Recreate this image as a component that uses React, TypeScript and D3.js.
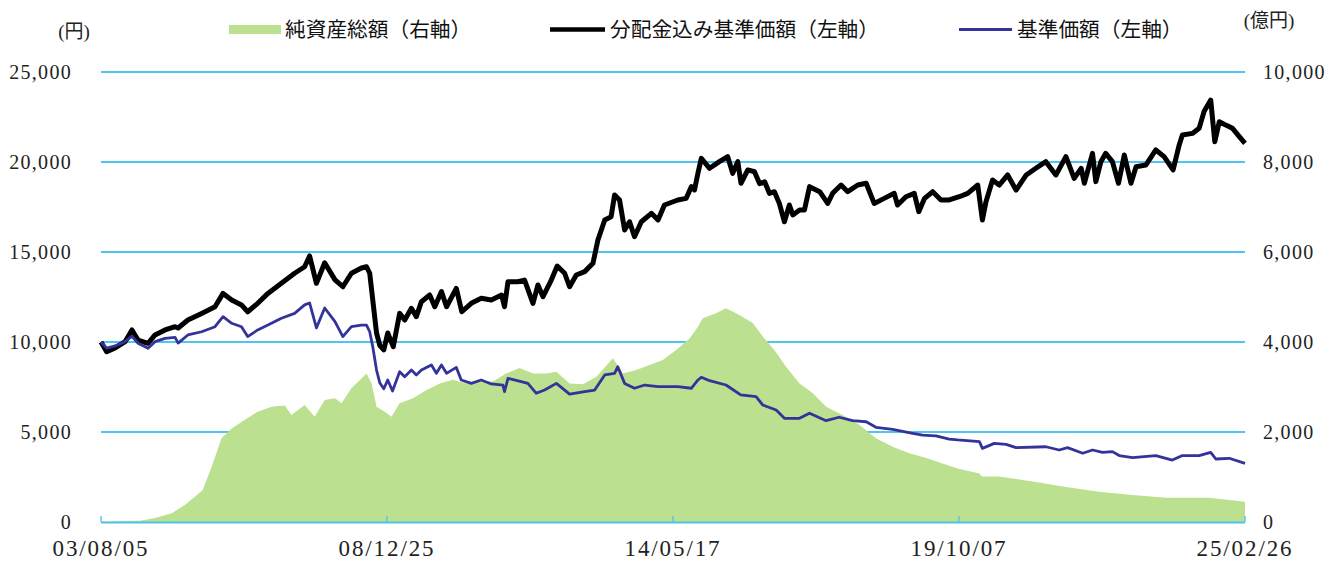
import * as d3 from "d3";

// 分配金込み基準価額 (左軸, 円)
const totalReturnNav: [string, number][] = [
  ["2003-08-05", 10000], ["2003-09-13", 9460], ["2003-11-10", 9670], ["2004-01-18", 10020],
  ["2004-03-05", 10670], ["2004-04-16", 10110], ["2004-06-24", 9930], ["2004-08-11", 10390],
  ["2004-10-19", 10670], ["2004-12-27", 10850], ["2005-01-17", 10780], ["2005-03-25", 11220],
  ["2005-06-28", 11590], ["2005-09-28", 11960], ["2005-11-22", 12700], ["2006-01-21", 12330],
  ["2006-03-29", 12060], ["2006-05-11", 11680], ["2006-07-19", 12150], ["2006-09-27", 12700],
  ["2006-12-29", 13260], ["2007-03-30", 13820], ["2007-06-07", 14180], ["2007-07-11", 14780],
  ["2007-08-27", 13260], ["2007-10-23", 14400], ["2008-01-02", 13450], ["2008-02-25", 13070],
  ["2008-04-24", 13820], ["2008-07-02", 14110], ["2008-08-06", 14180], ["2008-08-28", 13820],
  ["2008-09-18", 12330], ["2008-10-14", 10500], ["2008-11-06", 9800], ["2008-12-03", 9560],
  ["2008-12-30", 10500], ["2009-02-06", 9740], ["2009-03-22", 11590], ["2009-04-26", 11220],
  ["2009-06-11", 11870], ["2009-07-15", 11410], ["2009-08-19", 12240], ["2009-10-15", 12610],
  ["2009-11-19", 11960], ["2010-01-04", 12800], ["2010-02-08", 11960], ["2010-04-16", 12980],
  ["2010-05-24", 11680], ["2010-07-28", 12150], ["2010-10-05", 12430], ["2010-12-13", 12330],
  ["2011-02-22", 12610], ["2011-03-14", 11960], ["2011-04-07", 13350], ["2011-06-14", 13350],
  ["2011-07-30", 13440], ["2011-09-26", 12150], ["2011-10-30", 13170], ["2011-12-04", 12520],
  ["2012-01-30", 13440], ["2012-03-11", 14220], ["2012-05-01", 13820], ["2012-06-04", 13070],
  ["2012-07-20", 13720], ["2012-09-16", 13910], ["2012-11-12", 14370], ["2012-12-16", 15670],
  ["2013-02-01", 16780], ["2013-03-17", 16960], ["2013-04-10", 18170], ["2013-05-14", 17890],
  ["2013-06-18", 16220], ["2013-07-22", 16680], ["2013-08-25", 15850], ["2013-10-11", 16680],
  ["2013-12-19", 17150], ["2014-02-03", 16780], ["2014-03-19", 17610], ["2014-06-19", 17890],
  ["2014-08-16", 17980], ["2014-09-20", 18630], ["2014-10-12", 18450], ["2014-11-05", 19390],
  ["2014-11-28", 20200], ["2015-01-24", 19650], ["2015-04-01", 20020], ["2015-05-28", 20300],
  ["2015-07-02", 19370], ["2015-08-06", 20020], ["2015-08-28", 18820], ["2015-10-14", 19560],
  ["2015-11-29", 19460], ["2016-01-03", 18800], ["2016-02-07", 18900], ["2016-03-11", 18260],
  ["2016-04-14", 18350], ["2016-05-18", 17700], ["2016-06-22", 16680], ["2016-07-26", 17610],
  ["2016-08-19", 17060], ["2016-10-04", 17330], ["2016-11-07", 17330], ["2016-12-12", 18630],
  ["2017-02-20", 18350], ["2017-04-16", 17700], ["2017-05-20", 18260], ["2017-07-17", 18720],
  ["2017-09-01", 18350], ["2017-11-09", 18720], ["2018-01-06", 18820], ["2018-03-02", 17700],
  ["2018-05-10", 17980], ["2018-07-18", 18260], ["2018-08-10", 17610], ["2018-10-07", 18070],
  ["2018-12-03", 18260], ["2019-01-03", 17240], ["2019-02-12", 17980], ["2019-04-09", 18350],
  ["2019-06-05", 17890], ["2019-08-01", 17890], ["2019-10-09", 18070], ["2019-12-06", 18260],
  ["2020-02-13", 18720], ["2020-03-16", 16780], ["2020-04-10", 17800], ["2020-05-25", 19000],
  ["2020-07-10", 18720], ["2020-09-06", 19280], ["2020-11-03", 18440], ["2021-01-12", 19280],
  ["2021-03-19", 19650], ["2021-05-27", 20020], ["2021-08-04", 19280], ["2021-10-12", 20300],
  ["2021-12-08", 19090], ["2022-01-25", 19650], ["2022-02-16", 18820], ["2022-04-13", 20480],
  ["2022-05-06", 18910], ["2022-06-10", 20020], ["2022-07-13", 20480], ["2022-08-28", 20020],
  ["2022-10-09", 18820], ["2022-11-18", 20390], ["2023-01-03", 18820], ["2023-02-07", 19740],
  ["2023-04-15", 19830], ["2023-06-23", 20670], ["2023-08-19", 20300], ["2023-10-20", 19560],
  ["2023-12-01", 20950], ["2023-12-23", 21500], ["2024-03-01", 21590], ["2024-04-16", 21870],
  ["2024-05-20", 22800], ["2024-07-05", 23440], ["2024-08-02", 21130], ["2024-09-02", 22240],
  ["2024-10-17", 22050], ["2024-12-02", 21870], ["2025-01-18", 21410], ["2025-02-26", 21040],
];

// 基準価額 (左軸, 円)
const nav: [string, number][] = [
  ["2003-08-05", 10000], ["2003-09-13", 9660], ["2003-11-10", 9780], ["2004-01-18", 10020],
  ["2004-03-05", 10330], ["2004-04-16", 9930], ["2004-06-24", 9650], ["2004-08-11", 10020],
  ["2004-10-19", 10200], ["2004-12-27", 10260], ["2005-01-17", 9940], ["2005-03-25", 10390],
  ["2005-06-28", 10570], ["2005-09-28", 10850], ["2005-11-22", 11410], ["2006-01-21", 11040],
  ["2006-03-29", 10850], ["2006-05-11", 10300], ["2006-07-19", 10670], ["2006-09-27", 10940],
  ["2006-12-29", 11320], ["2007-03-30", 11590], ["2007-06-07", 12060], ["2007-07-11", 12170],
  ["2007-08-27", 10780], ["2007-10-23", 11890], ["2008-01-02", 11130], ["2008-02-25", 10300],
  ["2008-04-24", 10850], ["2008-07-02", 10940], ["2008-08-06", 10940], ["2008-08-28", 10570],
  ["2008-09-18", 9740], ["2008-10-14", 8440], ["2008-11-06", 7720], ["2008-12-03", 7400],
  ["2008-12-30", 7890], ["2009-02-01", 7280], ["2009-03-22", 8350], ["2009-04-26", 8070],
  ["2009-06-11", 8440], ["2009-07-15", 8170], ["2009-08-19", 8440], ["2009-10-27", 8720],
  ["2009-11-30", 8260], ["2010-01-04", 8720], ["2010-02-08", 8260], ["2010-04-16", 8590],
  ["2010-05-20", 7890], ["2010-07-28", 7700], ["2010-10-05", 7890], ["2010-12-13", 7670],
  ["2011-03-03", 7610], ["2011-03-14", 7240], ["2011-04-07", 7980], ["2011-07-07", 7800],
  ["2011-08-22", 7700], ["2011-10-19", 7150], ["2011-12-15", 7330], ["2012-03-05", 7700],
  ["2012-06-04", 7100], ["2012-09-16", 7240], ["2012-11-24", 7330], ["2013-02-01", 8170],
  ["2013-04-10", 8260], ["2013-05-02", 8630], ["2013-06-18", 7700], ["2013-08-25", 7430],
  ["2013-11-03", 7610], ["2014-02-03", 7520], ["2014-06-19", 7520], ["2014-09-20", 7430],
  ["2014-11-05", 7890], ["2014-11-28", 8040], ["2015-01-24", 7850], ["2015-05-17", 7610],
  ["2015-08-26", 7060], ["2015-12-10", 6960], ["2016-01-25", 6500], ["2016-04-26", 6220],
  ["2016-06-22", 5760], ["2016-10-04", 5760], ["2016-12-12", 6040], ["2017-04-05", 5630],
  ["2017-07-04", 5820], ["2017-10-05", 5630], ["2018-01-06", 5570], ["2018-03-14", 5260],
  ["2018-07-07", 5150], ["2018-11-22", 4930], ["2019-01-30", 4830], ["2019-05-01", 4780],
  ["2019-08-01", 4610], ["2019-09-28", 4560], ["2020-02-25", 4460], ["2020-03-16", 4090],
  ["2020-06-06", 4370], ["2020-08-26", 4310], ["2020-11-03", 4130], ["2021-05-27", 4180],
  ["2021-08-27", 4000], ["2021-10-23", 4130], ["2022-02-05", 3820], ["2022-04-13", 4000],
  ["2022-06-21", 3870], ["2022-08-28", 3910], ["2022-10-14", 3690], ["2023-01-14", 3580],
  ["2023-06-23", 3690], ["2023-10-15", 3440], ["2023-12-23", 3690], ["2024-04-16", 3690],
  ["2024-07-05", 3870], ["2024-08-09", 3500], ["2024-11-09", 3540], ["2025-02-26", 3260],
];

// 純資産総額 (右軸, 億円)
const netAssets: [string, number][] = [
  ["2003-08-05", 3], ["2003-12-13", 15], ["2004-04-28", 29], ["2004-08-11", 89],
  ["2004-12-04", 193], ["2005-03-04", 378], ["2005-05-12", 562], ["2005-07-05", 711],
  ["2005-09-05", 1230], ["2005-11-12", 1860], ["2006-01-21", 2080], ["2006-04-21", 2270],
  ["2006-07-19", 2450], ["2006-10-22", 2560], ["2007-01-22", 2590], ["2007-03-08", 2380],
  ["2007-06-07", 2600], ["2007-08-15", 2340], ["2007-10-23", 2710], ["2008-01-02", 2750],
  ["2008-02-16", 2640], ["2008-04-24", 2970], ["2008-07-02", 3190], ["2008-08-06", 3300],
  ["2008-09-09", 3090], ["2008-10-14", 2560], ["2008-12-10", 2450], ["2009-01-25", 2340],
  ["2009-03-22", 2640], ["2009-06-21", 2750], ["2009-09-22", 2930], ["2009-12-24", 3080],
  ["2010-03-23", 3160], ["2010-06-24", 3080], ["2010-09-24", 3120], ["2010-12-25", 3120],
  ["2011-03-25", 3300], ["2011-06-26", 3420], ["2011-09-26", 3300], ["2011-12-27", 3300],
  ["2012-03-05", 3340], ["2012-06-04", 3080], ["2012-09-05", 3060], ["2012-12-06", 3230],
  ["2013-03-29", 3640], ["2013-06-06", 3300], ["2013-09-06", 3380], ["2013-12-07", 3490],
  ["2014-03-08", 3600], ["2014-06-08", 3820], ["2014-09-08", 4080], ["2014-11-05", 4340],
  ["2014-12-08", 4530], ["2015-03-09", 4640], ["2015-05-17", 4750], ["2015-08-17", 4600],
  ["2015-11-17", 4420], ["2016-01-25", 4120], ["2016-04-14", 3820], ["2016-07-03", 3450],
  ["2016-10-04", 3080], ["2017-01-04", 2860], ["2017-04-05", 2560], ["2017-07-27", 2380],
  ["2017-11-20", 2160], ["2018-03-14", 1860], ["2018-07-07", 1670], ["2018-10-30", 1530],
  ["2019-02-24", 1420], ["2019-06-16", 1300], ["2019-09-28", 1190], ["2020-02-25", 1080],
  ["2020-03-13", 1010], ["2020-07-10", 1010], ["2021-02-26", 900], ["2021-10-12", 780],
  ["2022-05-28", 670], ["2023-01-14", 600], ["2023-09-01", 540], ["2024-06-24", 540],
  ["2025-02-26", 450],
];

const xTickDates = ["2003-08-05", "2008-12-25", "2014-05-17", "2019-10-07", "2025-02-26"];
const leftTicks = [0, 5000, 10000, 15000, 20000, 25000];
const rightTicks = [0, 2000, 4000, 6000, 8000, 10000];

const W = 1326;
const H = 561;
const M = { left: 101, right: 1245, top: 72, bottom: 522 };

const GREEN = "#bbe08f";
const BLUE = "#333399";
const GRID = "#17b2ec";
const SERIF = "'Liberation Serif', 'Noto Sans CJK JP', serif";
const SANS = "'Noto Sans CJK JP', sans-serif";

const parse = d3.timeParse("%Y-%m-%d");
const fmtDate = d3.timeFormat("%y/%m/%d");
const fmtNum = d3.format(",");

export default function App() {
  const x = d3
    .scaleTime()
    .domain([parse(xTickDates[0])!, parse(xTickDates[xTickDates.length - 1])!])
    .range([M.left, M.right]);
  const yL = d3.scaleLinear().domain([0, 25000]).range([M.bottom, M.top]);
  const yR = d3.scaleLinear().domain([0, 10000]).range([M.bottom, M.top]);

  const area = d3
    .area<[string, number]>()
    .x((d) => x(parse(d[0])!))
    .y0(yR(0))
    .y1((d) => yR(d[1]));
  const lineL = d3
    .line<[string, number]>()
    .x((d) => x(parse(d[0])!))
    .y((d) => yL(d[1]));

  return (
    <div style={{ position: "absolute", left: 0, top: 0 }}>
      <svg width={W} height={H} style={{ display: "block", background: "#fff" }}>
        {/* grid */}
        {leftTicks.slice(1).map((t) => (
          <line key={t} x1={M.left} x2={M.right} y1={yL(t)} y2={yL(t)} stroke={GRID} strokeWidth={1.3} />
        ))}

        <path d={area(netAssets) ?? ""} fill={GREEN} />
        <path d={lineL(totalReturnNav) ?? ""} fill="none" stroke="#000" strokeWidth={5} strokeLinejoin="round" />
        <path d={lineL(nav) ?? ""} fill="none" stroke={BLUE} strokeWidth={2.8} strokeLinejoin="round" />

        {/* x axis */}
        <line x1={M.left} x2={M.right} y1={M.bottom + 0.5} y2={M.bottom + 0.5} stroke="#4cc4e8" strokeWidth={2} />
        {xTickDates.map((d) => (
          <g key={d} transform={`translate(${x(parse(d)!)},0)`}>
            <line y1={M.bottom - 6} y2={M.bottom} stroke="#4cc4e8" strokeWidth={1.3} />
            <text
              y={556}
              textAnchor="middle"
              style={{ fontFamily: SERIF, fontSize: 23, letterSpacing: 1.9 }}
              fill="#222"
            >
              {fmtDate(parse(d)!)}
            </text>
          </g>
        ))}

        {/* y axes */}
        {leftTicks.map((t) => (
          <text
            key={t}
            x={72}
            y={yL(t)}
            dy="0.35em"
            textAnchor="end"
            style={{ fontFamily: SERIF, fontSize: 20, letterSpacing: 1.3 }}
            fill="#222"
          >
            {fmtNum(t)}
          </text>
        ))}
        {rightTicks.map((t) => (
          <text
            key={t}
            x={1263}
            y={yR(t)}
            dy="0.35em"
            textAnchor="start"
            style={{ fontFamily: SERIF, fontSize: 20, letterSpacing: 1.3 }}
            fill="#222"
          >
            {fmtNum(t)}
          </text>
        ))}
        <text x={74} y={31} dy="0.35em" textAnchor="middle" style={{ fontFamily: SERIF, fontSize: 19 }} fill="#222">
          (円)
        </text>
        <text x={1269} y={20} dy="0.35em" textAnchor="middle" style={{ fontFamily: SERIF, fontSize: 19 }} fill="#222">
          (億円)
        </text>

        {/* legend */}
        <rect x={229} y={25} width={52} height={9} fill={GREEN} />
        <text x={285} y={30} dy="0.35em" style={{ fontFamily: SANS, fontSize: 20.7 }} fill="#111">
          純資産総額（右軸）
        </text>
        <line x1={550} x2={605} y1={29.5} y2={29.5} stroke="#000" strokeWidth={4.5} />
        <text x={610} y={30} dy="0.35em" style={{ fontFamily: SANS, fontSize: 20.7 }} fill="#111">
          分配金込み基準価額（左軸）
        </text>
        <line x1={959} x2={1012} y1={29.5} y2={29.5} stroke={BLUE} strokeWidth={2.8} />
        <text x={1017} y={30} dy="0.35em" style={{ fontFamily: SANS, fontSize: 20.7 }} fill="#111">
          基準価額（左軸）
        </text>
      </svg>
    </div>
  );
}
